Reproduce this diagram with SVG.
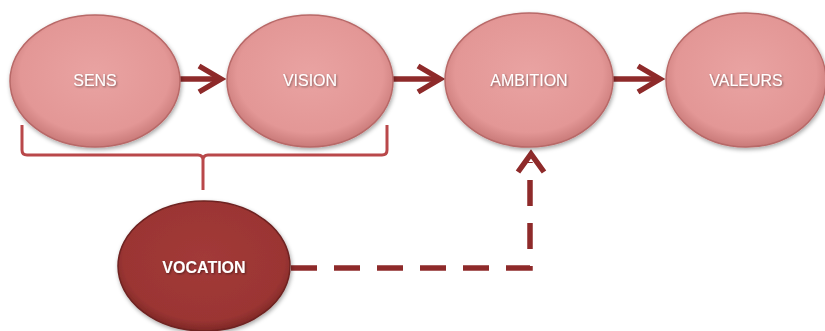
<svg xmlns="http://www.w3.org/2000/svg" width="825" height="331" viewBox="0 0 825 331">
<defs>
<radialGradient id="gLight" cx="50%" cy="45%" r="55%">
<stop offset="0" stop-color="#E9A3A2"/>
<stop offset="0.8" stop-color="#E39796"/>
<stop offset="1" stop-color="#C97A79"/>
</radialGradient>
<radialGradient id="gDark" cx="50%" cy="45%" r="55%">
<stop offset="0" stop-color="#A23A38"/>
<stop offset="0.85" stop-color="#9B3533"/>
<stop offset="1" stop-color="#7E2826"/>
</radialGradient>
<filter id="sh" x="-10%" y="-10%" width="125%" height="130%">
<feDropShadow dx="1" dy="2" stdDeviation="2" flood-color="#000" flood-opacity="0.35"/>
</filter>
<filter id="tsh" x="-10%" y="-30%" width="130%" height="160%">
<feDropShadow dx="1" dy="1" stdDeviation="0.8" flood-color="#000" flood-opacity="0.45"/>
</filter>
<marker id="chev" viewBox="0 0 10 10" refX="9" refY="5" markerWidth="6" markerHeight="6" markerUnits="userSpaceOnUse" orient="auto" overflow="visible">
<path d="M-20,-10 L0,5 L-20,20" transform="translate(9,0)" fill="none"/>
</marker>
</defs>
<style>
.light{fill:url(#gLight);stroke:#B86968;stroke-width:1.5;filter:url(#sh)}
.dark{fill:url(#gDark);stroke:#6E2220;stroke-width:1.5;filter:url(#sh)}
.lbl{font-family:"Liberation Sans Narrow","Liberation Sans",Arial,sans-serif;font-size:16px;fill:#FFFFFF;text-anchor:middle;filter:url(#tsh)}
.lblb{font-weight:bold}
.arr{stroke:#8E2A2A;stroke-width:5.5;fill:none;stroke-linejoin:miter}
.brace{stroke:#B9484A;stroke-width:3;fill:none}
.dash{stroke:#8E2A2A;stroke-width:5.5;fill:none;stroke-dasharray:26 17}
</style>
<g id="connectors">
<path class="brace" d="M22,125 L22,150 Q22,155 27,155 L198,155 Q203,155 203,160 L203,190 M203,160 Q203,155 208,155 L382,155 Q387,155 387,150 L387,125"/>
<line class="arr" x1="180" y1="79" x2="220" y2="79"/>
<path class="arr" d="M199,66 L221,79 L199,92"/>
<line class="arr" x1="393" y1="79" x2="438" y2="79"/>
<path class="arr" d="M418,66 L440,79 L418,92"/>
<line class="arr" x1="613" y1="79" x2="657" y2="79"/>
<path class="arr" d="M638,66 L660,79 L638,92"/>
<path class="dash" d="M291,268 L530,268 L530,162" stroke-dashoffset="0"/>
<path class="arr" d="M518,172 L531,154 L544,172"/>
</g>
<g id="sens">
<ellipse class="light" cx="95" cy="81" rx="85" ry="66"/>
<text class="lbl" x="95" y="86">SENS</text>
</g>
<g id="vision">
<ellipse class="light" cx="310" cy="81" rx="83" ry="66"/>
<text class="lbl" x="310" y="86">VISION</text>
</g>
<g id="ambition">
<ellipse class="light" cx="529" cy="80" rx="84" ry="67"/>
<text class="lbl" x="529" y="86">AMBITION</text>
</g>
<g id="valeurs">
<ellipse class="light" cx="746" cy="80" rx="80" ry="67"/>
<text class="lbl" x="746" y="86">VALEURS</text>
</g>
<g id="vocation">
<ellipse class="dark" cx="204" cy="266" rx="86" ry="65"/>
<text class="lbl lblb" x="204" y="273">VOCATION</text>
</g>
</svg>
